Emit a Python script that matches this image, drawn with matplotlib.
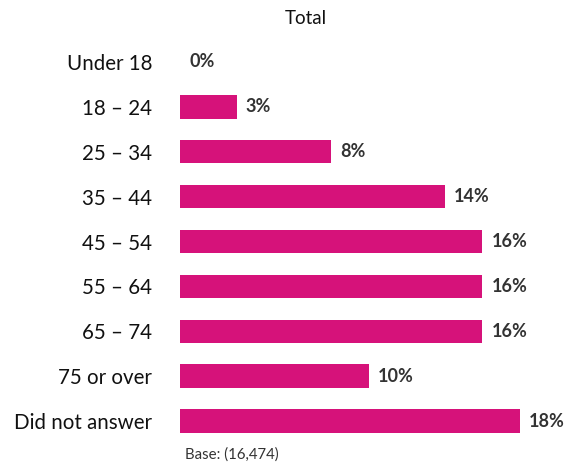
import matplotlib
matplotlib.use("Agg")
import matplotlib.pyplot as plt

categories = ["Under 18", "18 – 24", "25 – 34", "35 – 44", "45 – 54", "55 – 64", "65 – 74", "75 or over", "Did not answer"]
values = [0, 3, 8, 14, 16, 16, 16, 10, 18]
value_labels = ["0%", "3%", "8%", "14%", "16%", "16%", "16%", "10%", "18%"]
title = "Total"
base_note = "Base: (16,474)"

plt.rcParams['font.family'] = ['Lato', 'DejaVu Sans']

fig = plt.figure(figsize=(5.83, 4.65), dpi=100)
ax = fig.add_axes([180/583, 1-443.5/465, 378/583, (443.5-39.5)/465])
y = list(range(len(categories)))
ax.barh(y, values, height=0.52, color="#D6127A")
ax.set_xlim(0, 20)
ax.set_ylim(8.5, -0.5)
ax.set_yticks(y)
ax.set_yticklabels(categories, fontsize=14.8, color="#111111")
ax.tick_params(axis='y', length=0, pad=20)
ax.set_xticks([])
for s in ax.spines.values():
    s.set_visible(False)
for yi, v, lab in zip(y, values, value_labels):
    ax.annotate(lab, (v, yi), xytext=(6.5, 0), textcoords='offset points',
                va='center', ha='left', fontsize=13, fontweight='bold', color="#333333")
fig.text(306/583, 1-19/465, title, ha='center', va='center', fontsize=13.5, color="#111111")
fig.text(185/583, 1-455/465, base_note, ha='left', va='center', fontsize=10.8, color="#333333")
fig.savefig("out.png", dpi=100)
